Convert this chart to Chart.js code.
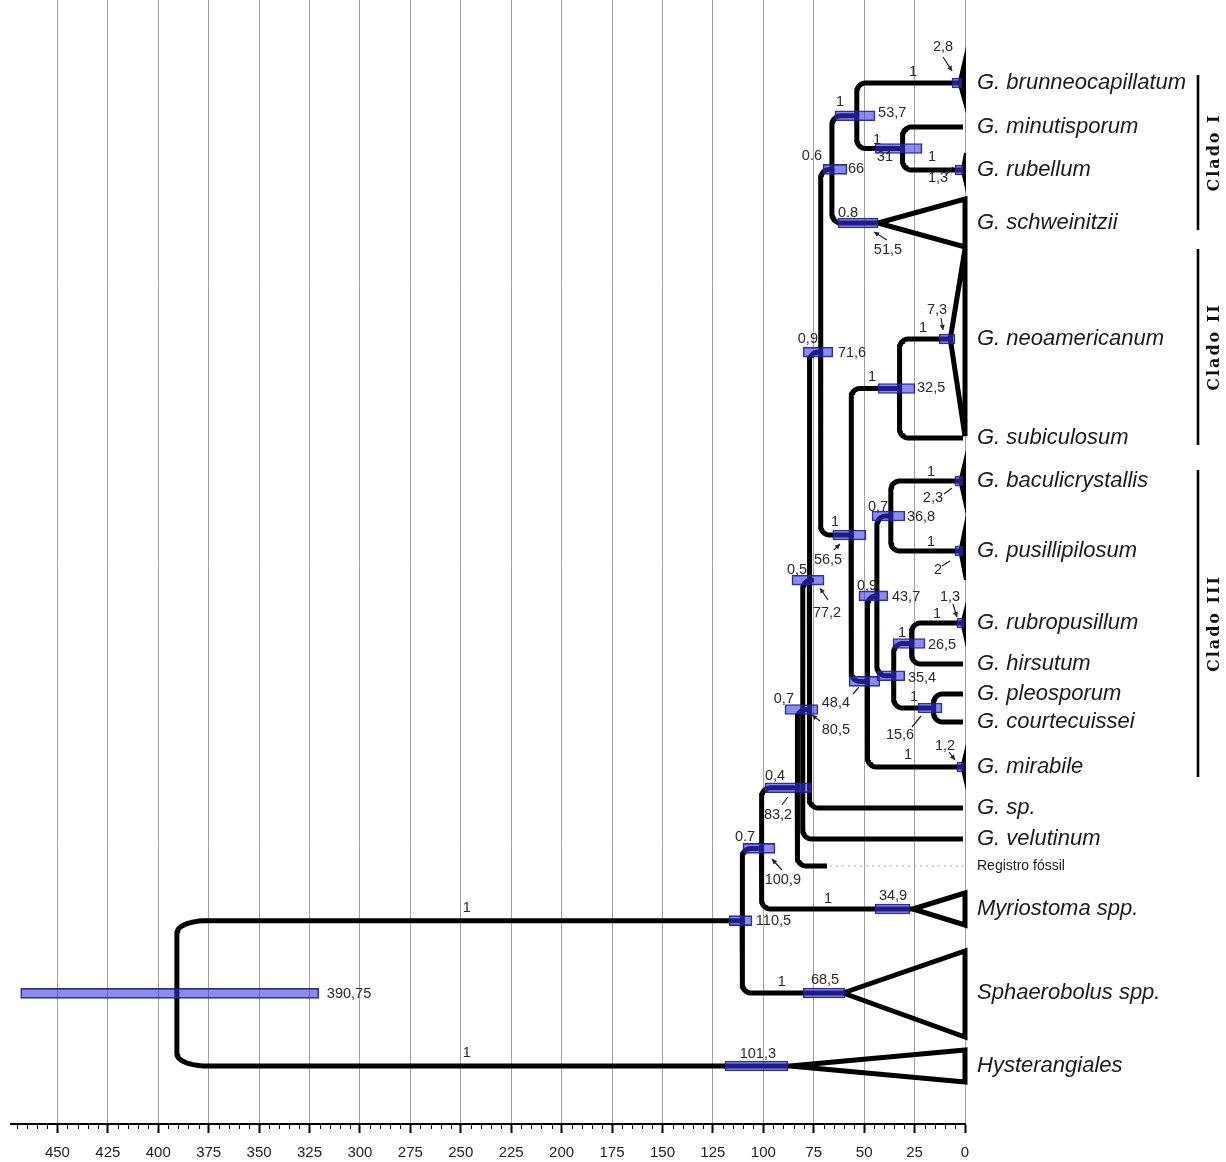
<!DOCTYPE html>
<html>
<head>
<meta charset="utf-8">
<title>Cronograma Geastrum</title>
<script src="https://cdn.jsdelivr.net/npm/chart.js@4.4.1/dist/chart.umd.min.js"></script>
<style>
html,body{margin:0;padding:0;background:#fff;}
#wrap{position:relative;width:1226px;height:1162px;}
</style>
</head>
<body>
<div id="wrap"><canvas id="chart"></canvas></div>
<script>
// ---------------- DATA ----------------
// terminal taxa (rows from top) and where each terminal branch ends (Ma)
const tipKeys   = ['brun','minu','rube','schw','neo','subi','bacu','pusi','rubr','hirs','pleo','cour','mira','sp','velu','foss','myri','spha','hyst'];
const tipLabels = ['G. brunneocapillatum','G. minutisporum','G. rubellum','G. schweinitzii','G. neoamericanum','G. subiculosum','G. baculicrystallis','G. pusillipilosum','G. rubropusillum','G. hirsutum','G. pleosporum','G. courtecuissei','G. mirabile','G. sp.','G. velutinum','Registro fóssil','Myriostoma spp.','Sphaerobolus spp.','Hysterangiales'];
const tipRows   = [83,127,170,223,339,438,481,551,623,664,694,722,767,808,839,866,909,993,1066];
const tipEndAge = [3.2,1,1.6,43.1,7.3,1,2.8,2.8,1.8,1,1,1,1.8,1,1,68.4,25.8,60.5,86.8];

// internal nodes: age (Ma) and the two descendants
const nodeKeys     = ['root','n110','n100','n83','n80','n77','n71','n66','n53','n31','n56','n32','n48','n43','n36','n35','n26','n15'];
const nodeAges     = [390.75,110.5,100.9,83.2,80.5,77.2,71.6,66,53.7,31,56.5,32.5,48.4,43.7,36.8,35.4,26.5,15.6];
const nodeChildren = [['n110','hyst'],['n100','spha'],['n83','myri'],['n80','foss'],['n77','velu'],['n71','sp'],['n66','n56'],['n53','schw'],['brun','n31'],['minu','rube'],['n32','n48'],['neo','subi'],['n43','mira'],['n36','n35'],['bacu','pusi'],['n26','n15'],['rubr','hirs'],['pleo','cour']];

// collapsed clades (triangles): vertical extent of the base at 0 Ma
const cladeKeys   = ['brun','rube','schw','neo','bacu','pusi','rubr','mira','myri','spha','hyst'];
const cladeTop    = [55,153,199,249,458,524,609,752,893,951,1050];
const cladeBottom = [106,184,247,436,506,580,639,782,925,1037,1082];

// 95% HPD age intervals (Ma)
const hpdKeys = ['root','n110','n100','n83','n80','n77','n71','n66','n53','n31','n56','n32','n48','n43','n36','n35','n26','n15','brun','rube','schw','neo','bacu','pusi','rubr','mira','myri','spha','hyst'];
const hpdOld  = [468.2,117,110.1,99.2,89.3,85.8,80.3,70.4,64.5,44.6,65.5,43.1,57.5,52.6,46.1,43.6,35.7,23.3,6.4,5,63,12.9,5,5,4,4,44.6,80.3,119];
const hpdYoung= [320.4,105.6,94.2,75.9,72.9,69.9,65.5,58.5,44.6,21.3,49.1,24.8,42.2,38.2,29.8,29.8,19.8,11.4,1.5,1,43.1,5,1,1,0.5,0.5,27.3,59.5,87.8];

// node annotations: text, age position (Ma), row, alignment
const noteText  = ['1','1','390,75','110,5','0.7','100,9','1','34,9','1','68,5','101,3','0,4','83,2','0,7','80,5','48,4','0,5','77,2','1','56,5','0,9','71,6','0.6','66','1','53,7','1','31','1','1,3','1','2,8','0.8','51,5','7,3','1','1','32,5','1','2,3','0,7','36,8','1','2','0,9','43,7','1,3','1','1','26,5','35,4','1','15,6','1,2','1'];
const noteAge   = [247,247,316.4,103.7,109.1,90.3,67.9,35.7,90.8,69.4,102.7,94.2,92.7,89.8,64,64,83.3,68.4,64.5,67.9,77.9,63,75.9,58,62,43.1,43.6,39.7,16.4,13.4,25.8,10.9,58,38.2,13.9,20.8,46.1,23.8,16.9,15.9,43.1,28.8,16.9,13.4,48.6,36.2,7.4,13.9,31.2,18.4,28.3,25.3,32.2,9.9,28.3];
const noteRow   = [908,1053,994,921,837,880,899,896,982,980,1054,776,815,699,730,703,570,613,522,560,339,353,156,169,102,113,140,157,157,178,72,47,213,250,310,328,377,388,472,498,507,517,542,570,586,597,597,614,633,645,678,697,735,746,755];
const noteAlign = ['c','c','l','l','c','c','c','c','c','c','c','c','c','c','c','c','c','c','c','c','c','l','c','l','c','l','c','c','c','c','c','c','c','c','c','c','c','l','c','c','c','l','c','c','c','l','c','c','c','l','l','c','c','c','c'];

// small pointers from age labels to their bars: [age1,row1,age2,row2,hasHead]
const pointers = [
  [10.9,57,6.4,71,1],[38.7,154,35.7,146,0],[9.4,175,6.0,167,0],[38.7,240,45.1,232,1],
  [11.9,318,10.9,330,1],[10.4,494,6.4,488,0],[11.4,566,7.4,561,0],[65.0,550,62.0,544,1],
  [67.9,600,71.9,588,1],[6.0,604,4.0,617,1],[55.5,694,52.6,687,0],[26.3,727,21.8,716,0],
  [71.9,721,75.9,715,1],[7.9,752,5.0,760,1],[90.8,805,87.8,797,0],[90.8,870,95.7,859,1]
];

// clade brackets
const cladeNames = ['Clado I','Clado II','Clado III'];
const cladeFrom  = [75,249,470];
const cladeTo    = [230,445,777];

// axis
const ageTicks = [0,25,50,75,100,125,150,175,200,225,250,275,300,325,350,375,400,425,450];
const AGE_MAX = 473;
const ROW_MAX = 1124;

// ---------------- STYLE CONSTANTS ----------------
const PX_PER_AGE = 954 / AGE_MAX;
const CORNER = 9;
const ROOT_CORNER_X = 30, ROOT_CORNER_Y = 12;
const FONT = '"Liberation Sans", Arial, sans-serif';

// ---------------- BUILD TREE ----------------
const tree = {};
tipKeys.forEach((k, i) => { tree[k] = {age: tipEndAge[i], y: tipRows[i]}; });
function place(k) {
  if (tree[k]) return tree[k].y;
  const i = nodeKeys.indexOf(k);
  const ys = nodeChildren[i].map(place);
  tree[k] = {age: nodeAges[i], y: (ys[0] + ys[1]) / 2};
  return tree[k].y;
}
place('root');

function elbow(p, c, cx, cyR) {
  const rx = cx / PX_PER_AGE, ry = cyR;
  const s = Math.sign(c.y - p.y);
  const pts = [{x: p.age, y: p.y}];
  const cy = c.y - s * ry;
  for (let i = 0; i <= 12; i++) {
    const t = i / 12 * Math.PI / 2;
    pts.push({x: p.age - rx + rx * Math.cos(t), y: cy + s * ry * Math.sin(t)});
  }
  pts.push({x: c.age, y: c.y});
  return pts;
}

const datasets = [];
nodeKeys.forEach((k, i) => {
  const isRoot = k === 'root';
  nodeChildren[i].forEach(ch => {
    datasets.push({
      type: 'line',
      data: isRoot ? elbow(tree[k], tree[ch], ROOT_CORNER_X, ROOT_CORNER_Y) : elbow(tree[k], tree[ch], CORNER, CORNER),
      borderColor: '#000', borderWidth: 5, pointRadius: 0,
      borderCapStyle: 'butt', borderJoinStyle: 'round',
      fill: false, clip: false, order: 3
    });
  });
});

// fossil dotted guide
const fi = tipKeys.indexOf('foss');
datasets.push({
  type: 'line', data: [{x: tipEndAge[fi] - 1.5, y: tipRows[fi]}, {x: 0.5, y: tipRows[fi]}],
  borderColor: '#a8a8a8', borderWidth: 1.2, borderDash: [2, 4], pointRadius: 0, fill: false, order: 4
});

// triangles
cladeKeys.forEach((k, i) => {
  const t = tree[k];
  const thin = t.age < 5;
  datasets.push({
    type: 'line',
    data: [{x: t.age, y: t.y}, {x: 0, y: cladeTop[i]}, {x: 0, y: cladeBottom[i]}, {x: t.age, y: t.y}],
    borderColor: '#000', borderWidth: thin ? 2 : 5, pointRadius: 0,
    borderJoinStyle: 'miter', borderCapStyle: 'butt',
    fill: thin ? 'shape' : false, backgroundColor: '#000', clip: false, order: 2
  });
});

// HPD bars
datasets.push({
  type: 'bar', indexAxis: 'y',
  data: hpdKeys.map((k, i) => ({y: tree[k].y, x: [hpdOld[i], hpdYoung[i]]})),
  backgroundColor: 'rgba(52,52,228,0.57)', borderColor: 'rgba(28,28,110,0.9)',
  borderWidth: 1, borderSkipped: false, barThickness: 10, grouped: false, order: 0
});

// ---------------- ANNOTATION PLUGIN ----------------
const annot = {
  id: 'annot',
  afterDraw(chart) {
    const {ctx, chartArea} = chart;
    const xs = chart.scales.x, ys = chart.scales.y;
    ctx.save();
    // minor ticks
    ctx.strokeStyle = '#000'; ctx.lineWidth = 1;
    for (let v = 5; v < AGE_MAX; v += 5) {
      if (v % 25 === 0) continue;
      const px = Math.round(xs.getPixelForValue(v)) + 0.5;
      ctx.beginPath(); ctx.moveTo(px, xs.top); ctx.lineTo(px, xs.top + 5); ctx.stroke();
    }
    // node texts
    ctx.fillStyle = '#2a2a2a';
    ctx.font = '14.5px ' + FONT;
    ctx.textBaseline = 'middle';
    noteText.forEach((t, i) => {
      ctx.textAlign = noteAlign[i] === 'l' ? 'left' : 'center';
      ctx.fillText(t, xs.getPixelForValue(noteAge[i]), ys.getPixelForValue(noteRow[i]));
    });
    // pointers
    ctx.strokeStyle = '#222'; ctx.fillStyle = '#222'; ctx.lineWidth = 1.2;
    pointers.forEach(p => {
      const x1 = xs.getPixelForValue(p[0]), y1 = ys.getPixelForValue(p[1]);
      const x2 = xs.getPixelForValue(p[2]), y2 = ys.getPixelForValue(p[3]);
      ctx.beginPath(); ctx.moveTo(x1, y1); ctx.lineTo(x2, y2); ctx.stroke();
      if (p[4]) {
        const a = Math.atan2(y2 - y1, x2 - x1), L = 5, w = 2.6;
        ctx.beginPath();
        ctx.moveTo(x2, y2);
        ctx.lineTo(x2 - L * Math.cos(a) + w * Math.sin(a), y2 - L * Math.sin(a) - w * Math.cos(a));
        ctx.lineTo(x2 - L * Math.cos(a) - w * Math.sin(a), y2 - L * Math.sin(a) + w * Math.cos(a));
        ctx.closePath(); ctx.fill();
      }
    });
    // clade brackets
    const bx = chartArea.right + 233;
    ctx.strokeStyle = '#000'; ctx.lineWidth = 2.6; ctx.fillStyle = '#111';
    cladeNames.forEach((n, i) => {
      const y1 = ys.getPixelForValue(cladeFrom[i]), y2 = ys.getPixelForValue(cladeTo[i]);
      ctx.beginPath(); ctx.moveTo(bx, y1); ctx.lineTo(bx, y2); ctx.stroke();
      ctx.save();
      ctx.translate(bx + 17, (y1 + y2) / 2);
      ctx.rotate(-Math.PI / 2);
      ctx.font = 'bold 16px "DejaVu Serif", serif';
      try { ctx.letterSpacing = '2px'; } catch (e) {}
      ctx.textAlign = 'center'; ctx.textBaseline = 'middle';
      ctx.fillText(n, 0, 0);
      ctx.restore();
    });
    ctx.restore();
  }
};

// ---------------- CHART ----------------
new Chart(document.getElementById('chart'), {
  type: 'line',
  data: {datasets},
  options: {
    responsive: true, maintainAspectRatio: false, animation: false, events: [],
    layout: {padding: {left: 11, right: 0, top: 0, bottom: 0}},
    plugins: {legend: {display: false}, tooltip: {enabled: false}},
    scales: {
      x: {
        type: 'linear', reverse: true, min: 0, max: AGE_MAX, position: 'bottom',
        offset: false, beginAtZero: true,
        afterBuildTicks: s => { s.ticks = ageTicks.map(v => ({value: v})); },
        afterFit: s => { s.height = 38; s.paddingLeft = 0; s.paddingRight = 0; },
        ticks: {autoSkip: false, maxRotation: 0, padding: 11, color: '#222',
                font: {family: FONT, size: 15}, callback: v => String(v)},
        grid: {color: '#a2a2a2', lineWidth: 1, drawTicks: true, tickLength: 9,
               tickColor: '#000', tickWidth: 2, offset: false},
        border: {display: true, color: '#000', width: 2}
      },
      y: {
        type: 'linear', reverse: true, min: 0, max: ROW_MAX, position: 'right',
        offset: false,
        afterBuildTicks: s => { s.ticks = tipRows.map(v => ({value: v})); },
        afterFit: s => { s.width = 261; s.paddingTop = 0; s.paddingBottom = 0; },
        ticks: {
          autoSkip: false, padding: 12, color: '#1a1a1a',
          callback: (v, i) => tipLabels[i],
          font: c => (tipLabels[c.index] === 'Registro fóssil')
            ? {family: FONT, size: 14, style: 'normal'}
            : {family: FONT, size: 22, style: 'italic'}
        },
        grid: {display: false, drawTicks: false, offset: false},
        border: {display: false}
      }
    }
  },
  plugins: [annot]
});
</script>
</body>
</html>
